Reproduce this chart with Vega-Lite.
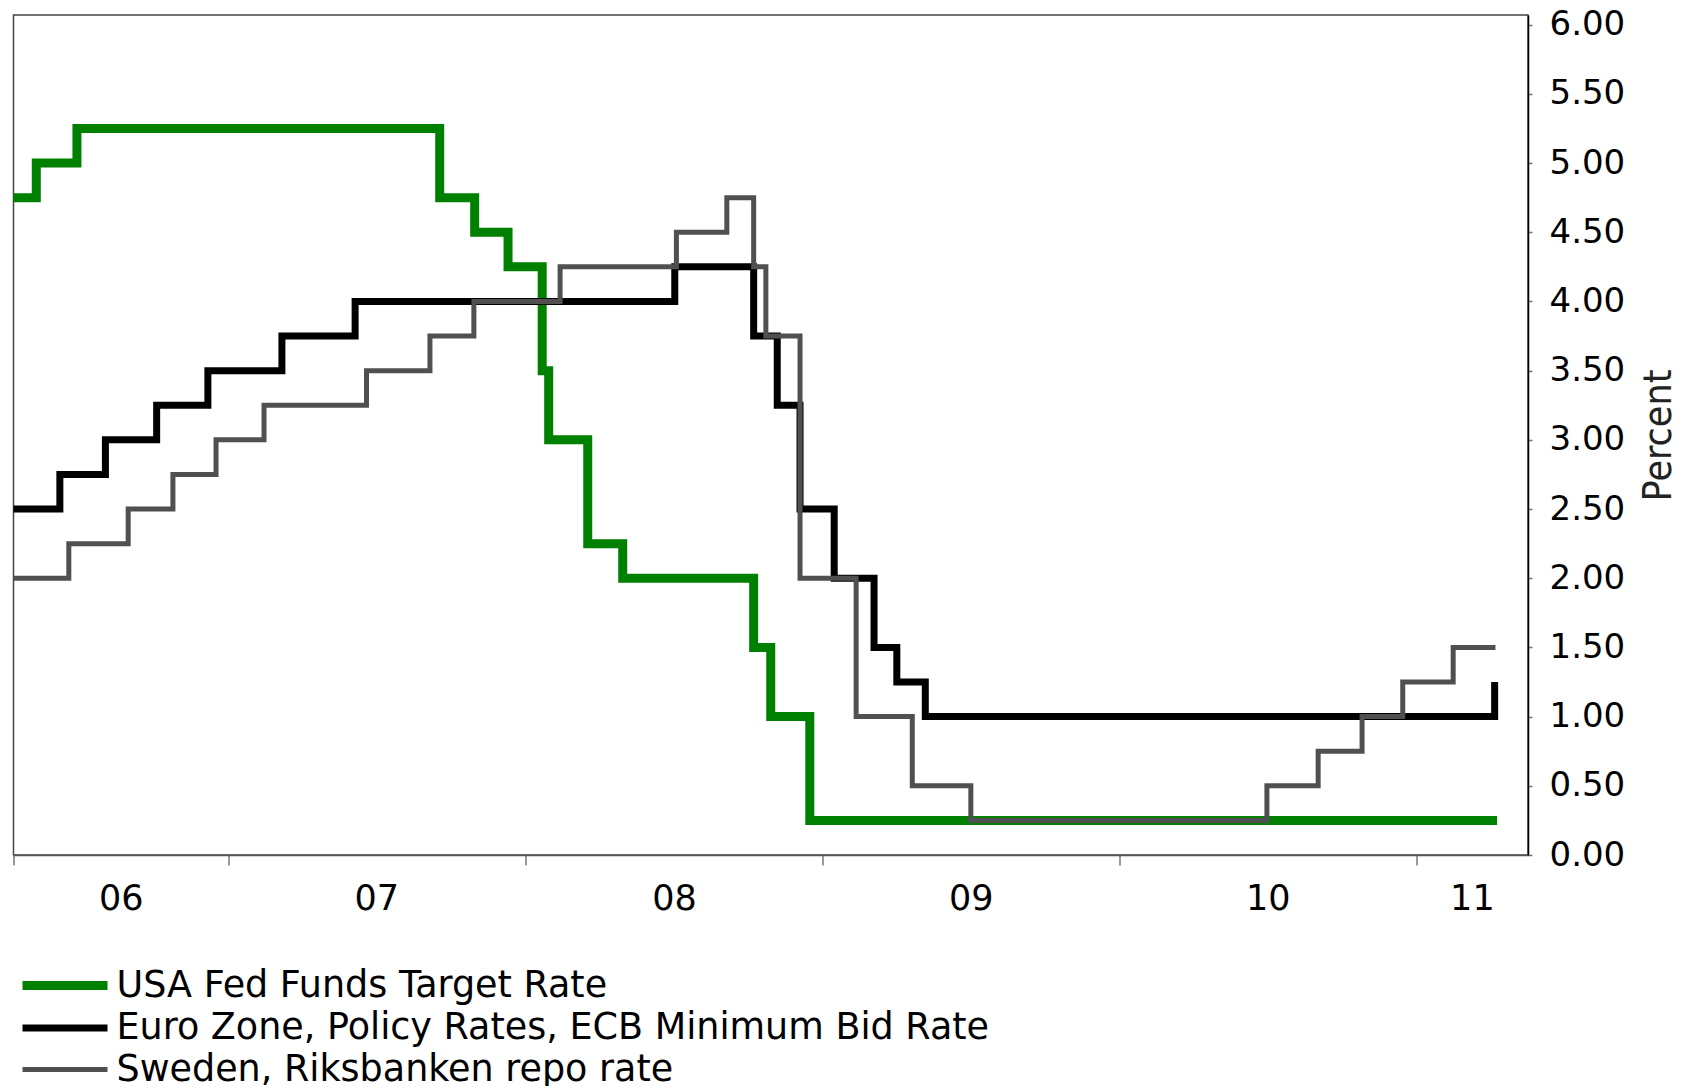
{
  "$schema": "https://vega.github.io/schema/vega-lite/v6.json",
  "width": 1514.5,
  "height": 840,
  "autosize": {"type": "none"},
  "padding": {"left": 13.5, "top": 15, "right": 158, "bottom": 231},
  "background": "white",
  "config": {"view": {"stroke": "#444", "strokeWidth": 1.5}, "font": "DejaVu Sans"},
  "data": {"values": [
    {"date": "2006-04-12", "series": "USA Fed Funds Target Rate", "rate": 4.75},
    {"date": "2006-05-10", "series": "USA Fed Funds Target Rate", "rate": 5.00},
    {"date": "2006-06-29", "series": "USA Fed Funds Target Rate", "rate": 5.25},
    {"date": "2007-09-18", "series": "USA Fed Funds Target Rate", "rate": 4.75},
    {"date": "2007-10-31", "series": "USA Fed Funds Target Rate", "rate": 4.50},
    {"date": "2007-12-11", "series": "USA Fed Funds Target Rate", "rate": 4.25},
    {"date": "2008-01-22", "series": "USA Fed Funds Target Rate", "rate": 3.50},
    {"date": "2008-01-30", "series": "USA Fed Funds Target Rate", "rate": 3.00},
    {"date": "2008-03-18", "series": "USA Fed Funds Target Rate", "rate": 2.25},
    {"date": "2008-04-30", "series": "USA Fed Funds Target Rate", "rate": 2.00},
    {"date": "2008-10-08", "series": "USA Fed Funds Target Rate", "rate": 1.50},
    {"date": "2008-10-29", "series": "USA Fed Funds Target Rate", "rate": 1.00},
    {"date": "2008-12-16", "series": "USA Fed Funds Target Rate", "rate": 0.25},
    {"date": "2011-04-10", "series": "USA Fed Funds Target Rate", "rate": 0.25},

    {"date": "2006-04-12", "series": "Euro Zone, Policy Rates, ECB Minimum Bid Rate", "rate": 2.50},
    {"date": "2006-06-08", "series": "Euro Zone, Policy Rates, ECB Minimum Bid Rate", "rate": 2.75},
    {"date": "2006-08-03", "series": "Euro Zone, Policy Rates, ECB Minimum Bid Rate", "rate": 3.00},
    {"date": "2006-10-05", "series": "Euro Zone, Policy Rates, ECB Minimum Bid Rate", "rate": 3.25},
    {"date": "2006-12-07", "series": "Euro Zone, Policy Rates, ECB Minimum Bid Rate", "rate": 3.50},
    {"date": "2007-03-08", "series": "Euro Zone, Policy Rates, ECB Minimum Bid Rate", "rate": 3.75},
    {"date": "2007-06-06", "series": "Euro Zone, Policy Rates, ECB Minimum Bid Rate", "rate": 4.00},
    {"date": "2008-07-03", "series": "Euro Zone, Policy Rates, ECB Minimum Bid Rate", "rate": 4.25},
    {"date": "2008-10-08", "series": "Euro Zone, Policy Rates, ECB Minimum Bid Rate", "rate": 3.75},
    {"date": "2008-11-06", "series": "Euro Zone, Policy Rates, ECB Minimum Bid Rate", "rate": 3.25},
    {"date": "2008-12-04", "series": "Euro Zone, Policy Rates, ECB Minimum Bid Rate", "rate": 2.50},
    {"date": "2009-01-15", "series": "Euro Zone, Policy Rates, ECB Minimum Bid Rate", "rate": 2.00},
    {"date": "2009-03-05", "series": "Euro Zone, Policy Rates, ECB Minimum Bid Rate", "rate": 1.50},
    {"date": "2009-04-02", "series": "Euro Zone, Policy Rates, ECB Minimum Bid Rate", "rate": 1.25},
    {"date": "2009-05-07", "series": "Euro Zone, Policy Rates, ECB Minimum Bid Rate", "rate": 1.00},
    {"date": "2011-04-07", "series": "Euro Zone, Policy Rates, ECB Minimum Bid Rate", "rate": 1.25},

    {"date": "2006-04-12", "series": "Sweden, Riksbanken repo rate", "rate": 2.00},
    {"date": "2006-06-19", "series": "Sweden, Riksbanken repo rate", "rate": 2.25},
    {"date": "2006-08-31", "series": "Sweden, Riksbanken repo rate", "rate": 2.50},
    {"date": "2006-10-25", "series": "Sweden, Riksbanken repo rate", "rate": 2.75},
    {"date": "2006-12-17", "series": "Sweden, Riksbanken repo rate", "rate": 3.00},
    {"date": "2007-02-14", "series": "Sweden, Riksbanken repo rate", "rate": 3.25},
    {"date": "2007-06-20", "series": "Sweden, Riksbanken repo rate", "rate": 3.50},
    {"date": "2007-09-06", "series": "Sweden, Riksbanken repo rate", "rate": 3.75},
    {"date": "2007-10-30", "series": "Sweden, Riksbanken repo rate", "rate": 4.00},
    {"date": "2008-02-13", "series": "Sweden, Riksbanken repo rate", "rate": 4.25},
    {"date": "2008-07-05", "series": "Sweden, Riksbanken repo rate", "rate": 4.50},
    {"date": "2008-09-05", "series": "Sweden, Riksbanken repo rate", "rate": 4.75},
    {"date": "2008-10-08", "series": "Sweden, Riksbanken repo rate", "rate": 4.25},
    {"date": "2008-10-23", "series": "Sweden, Riksbanken repo rate", "rate": 3.75},
    {"date": "2008-12-04", "series": "Sweden, Riksbanken repo rate", "rate": 2.00},
    {"date": "2009-02-11", "series": "Sweden, Riksbanken repo rate", "rate": 1.00},
    {"date": "2009-04-21", "series": "Sweden, Riksbanken repo rate", "rate": 0.50},
    {"date": "2009-07-02", "series": "Sweden, Riksbanken repo rate", "rate": 0.25},
    {"date": "2010-07-01", "series": "Sweden, Riksbanken repo rate", "rate": 0.50},
    {"date": "2010-09-02", "series": "Sweden, Riksbanken repo rate", "rate": 0.75},
    {"date": "2010-10-26", "series": "Sweden, Riksbanken repo rate", "rate": 1.00},
    {"date": "2010-12-15", "series": "Sweden, Riksbanken repo rate", "rate": 1.25},
    {"date": "2011-02-15", "series": "Sweden, Riksbanken repo rate", "rate": 1.50},
    {"date": "2011-04-08", "series": "Sweden, Riksbanken repo rate", "rate": 1.50}
  ]},
  "encoding": {
    "x": {
      "field": "date", "type": "temporal",
      "scale": {"type": "utc", "domain": [{"year": 2006, "month": 4, "date": 12, "utc": true}, {"year": 2011, "month": 5, "date": 18, "utc": true}]},
      "axis": {
        "title": null,
        "grid": false,
        "values": [
          {"year": 2006, "month": 4, "date": 12, "utc": true},
          {"year": 2006, "month": 8, "date": 22, "utc": true},
          {"year": 2007, "month": 1, "date": 1, "utc": true},
          {"year": 2007, "month": 7, "date": 2, "utc": true},
          {"year": 2008, "month": 1, "date": 1, "utc": true},
          {"year": 2008, "month": 7, "date": 2, "utc": true},
          {"year": 2009, "month": 1, "date": 1, "utc": true},
          {"year": 2009, "month": 7, "date": 2, "utc": true},
          {"year": 2010, "month": 1, "date": 1, "utc": true},
          {"year": 2010, "month": 7, "date": 2, "utc": true},
          {"year": 2011, "month": 1, "date": 1, "utc": true},
          {"year": 2011, "month": 3, "date": 10, "utc": true}
        ],
        "labelExpr": "(utcmonth(datum.value) == 0 || utcmonth(datum.value) == 3) ? '' : utcFormat(datum.value, '%y')",
        "tickOpacity": {"condition": {"test": "utcmonth(datum.value) == 0 || utcmonth(datum.value) == 3", "value": 1}, "value": 0},
        "tickSize": 10, "tickColor": "#777", "tickWidth": 1.5,
        "domainColor": "#555", "domainWidth": 1.5,
        "labelFont": "DejaVu Sans", "labelFontSize": 35, "labelColor": "#000",
        "labelPadding": 16, "labelFlush": false, "labelOverlap": false, "labelBound": false
      }
    },
    "y": {
      "field": "rate", "type": "quantitative",
      "scale": {"domain": [0, 6.07], "nice": false, "zero": true},
      "axis": {
        "orient": "right",
        "title": "Percent",
        "grid": false,
        "values": [0, 0.5, 1, 1.5, 2, 2.5, 3, 3.5, 4, 4.5, 5, 5.5, 6],
        "format": ".2f",
        "labelFont": "DejaVu Sans", "labelFontSize": 34, "labelColor": "#000",
        "labelPadding": 17, "labelFlush": false, "labelOverlap": false,
        "tickSize": 4, "tickColor": "#777", "tickWidth": 1.5,
        "domainColor": "#000", "domainWidth": 1.5,
        "titleFont": "'Liberation Sans Narrow', 'DejaVu Sans Condensed', 'Roboto Condensed', Roboto, sans-serif", "titleFontSize": 39, "titleFontWeight": 300, "titleColor": "#222",
        "titleAngle": 270, "titleX": 130, "titleY": 420, "titleAlign": "center", "titleBaseline": "middle"
      }
    },
    "color": {
      "field": "series", "type": "nominal",
      "scale": {"domain": ["USA Fed Funds Target Rate", "Euro Zone, Policy Rates, ECB Minimum Bid Rate", "Sweden, Riksbanken repo rate"], "range": ["#008000", "#000000", "#505050"]},
      "legend": {"orient": "none", "legendX": 30, "legendY": 949, "title": null, "labelFont": "DejaVu Sans", "labelFontSize": 36.5, "labelColor": "#000", "symbolType": "M-2.5,0H2.5", "symbolSize": 1156, "labelOffset": 30, "rowPadding": 3.5, "labelLimit": 1200}
    },
    "strokeWidth": {
      "field": "series", "type": "nominal",
      "scale": {"type": "ordinal", "domain": ["USA Fed Funds Target Rate", "Euro Zone, Policy Rates, ECB Minimum Bid Rate", "Sweden, Riksbanken repo rate"], "range": [9, 7, 5]},
      "legend": {"orient": "none", "legendX": 30, "legendY": 949, "title": null, "labelFont": "DejaVu Sans", "labelFontSize": 36.5, "labelColor": "#000", "symbolType": "M-2.5,0H2.5", "symbolSize": 1156, "labelOffset": 30, "rowPadding": 3.5, "labelLimit": 1200}
    }
  },
  "layer": [
    {"transform": [{"filter": "datum.series === 'USA Fed Funds Target Rate'"}], "mark": {"type": "line", "interpolate": "step-after"}},
    {"transform": [{"filter": "datum.series === 'Euro Zone, Policy Rates, ECB Minimum Bid Rate'"}], "mark": {"type": "line", "interpolate": "step-after"}},
    {"transform": [{"filter": "datum.series === 'Sweden, Riksbanken repo rate'"}], "mark": {"type": "line", "interpolate": "step-after"}}
  ]
}
